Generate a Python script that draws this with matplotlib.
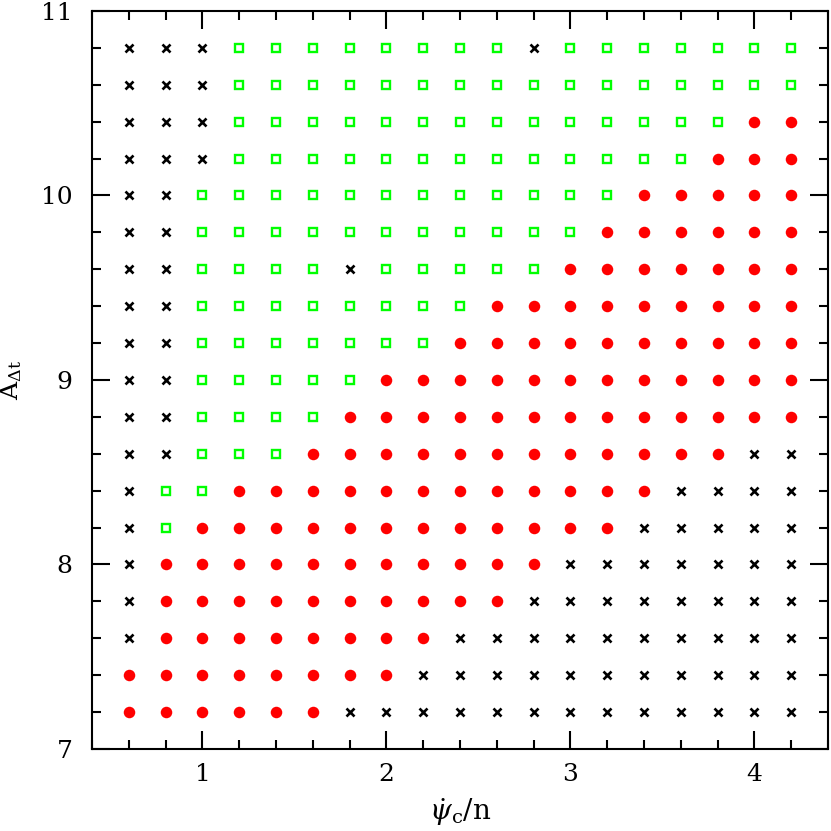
import matplotlib
matplotlib.use("Agg")
import matplotlib.pyplot as plt
import numpy as np

# grid of parameter values
psi_dot = [0.6, 0.8, 1.0, 1.2, 1.4, 1.6, 1.8, 2.0, 2.2, 2.4,
           2.6, 2.8, 3.0, 3.2, 3.4, 3.6, 3.8, 4.0, 4.2]
a_dt = [10.8, 10.6, 10.4, 10.2, 10.0, 9.8, 9.6, 9.4, 9.2, 9.0,
        8.8, 8.6, 8.4, 8.2, 8.0, 7.8, 7.6, 7.4, 7.2]

# outcome per grid point, one string per row (top to bottom)
# x = black cross, g = green square, r = red dot
outcome = [
    "xxxggggggggxggggggg",
    "xxxgggggggggggggggg",
    "xxxggggggggggggggrr",
    "xxxgggggggggggggrrr",
    "xxggggggggggggrrrrr",
    "xxgggggggggggrrrrrr",
    "xxggggxgggggrrrrrrr",
    "xxggggggggrrrrrrrrr",
    "xxgggggggrrrrrrrrrr",
    "xxgggggrrrrrrrrrrrr",
    "xxggggrrrrrrrrrrrrr",
    "xxgggrrrrrrrrrrrrxx",
    "xggrrrrrrrrrrrrxxxx",
    "xgrrrrrrrrrrrrxxxxx",
    "xrrrrrrrrrrrxxxxxxx",
    "xrrrrrrrrrrxxxxxxxx",
    "xrrrrrrrrxxxxxxxxxx",
    "rrrrrrrrxxxxxxxxxxx",
    "rrrrrrxxxxxxxxxxxxx",
]

plt.rcParams['font.family'] = ['DejaVu Serif']
plt.rcParams['mathtext.fontset'] = 'dejavuserif'

fig = plt.figure(figsize=(8.31, 8.31), dpi=100)
ax = fig.add_axes([0.1107, 0.0987, 0.8857, 0.8881])

pts = {"x": ([], []), "g": ([], []), "r": ([], [])}
for y, row in zip(a_dt, outcome):
    for x, c in zip(psi_dot, row):
        pts[c][0].append(x)
        pts[c][1].append(y)

ax.plot(*pts["x"], ls="none", marker="x", ms=6, mew=1.9, color="black")
ax.plot(*pts["g"], ls="none", marker="s", ms=6.3, mew=1.7, mfc="none", mec="#00ff00")
ax.plot(*pts["r"], ls="none", marker="o", ms=8.3, mew=0, color="#ff0000")

ax.set_xlim(0.4, 4.4)
ax.set_ylim(7, 11)
ax.set_xticks([1, 2, 3, 4])
ax.set_yticks([7, 8, 9, 10, 11])
ax.set_xticks(np.arange(0.4, 4.41, 0.2), minor=True)
ax.set_yticks(np.arange(7, 11.01, 0.2), minor=True)

ax.tick_params(which="both", direction="in", top=True, right=True, width=1.5)
ax.tick_params(which="major", length=13, labelsize=18)
ax.tick_params(which="minor", length=6.5)
ax.tick_params(axis="x", pad=10)
ax.tick_params(axis="y", pad=14)
for s in ax.spines.values():
    s.set_linewidth(1.5)

ax.set_xlabel(r"$\dot{\psi}_{\rm c}/{\rm n}$", fontsize=20, labelpad=8)
ax.set_ylabel(r"${\rm A}_{\Delta {\rm t}}$", fontsize=18, labelpad=12)

fig.savefig("out.png", dpi=100)
